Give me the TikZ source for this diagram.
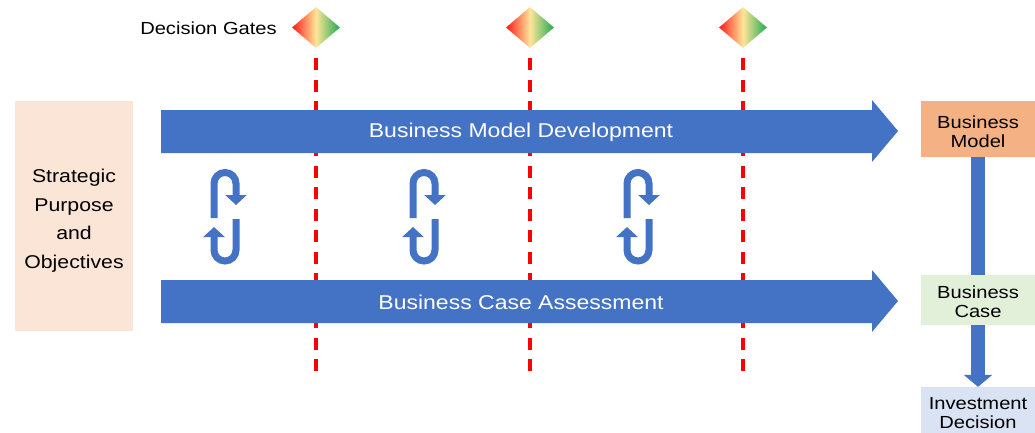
\documentclass[tikz,border=0pt]{standalone}
\usepackage{fontspec}
\setmainfont{Liberation Sans}[FakeStretch=1.15]
\usetikzlibrary{arrows.meta,shapes.geometric,backgrounds}

\definecolor{barblue}{HTML}{4472C4}
\definecolor{peach}{HTML}{FBE5D6}
\definecolor{modelorange}{HTML}{F4B183}
\definecolor{casegreen}{HTML}{E2F0D9}
\definecolor{decisionblue}{HTML}{DAE3F3}
\definecolor{gatered}{HTML}{FF1A1A}
\definecolor{gateyellow}{HTML}{FFE699}
\definecolor{gategreen}{HTML}{1FAA4F}

\begin{document}
\begin{tikzpicture}[x=1pt,y=-1pt,
  gate/.style={diamond,inner sep=0pt,minimum width=48pt,minimum height=41pt,
    left color=gatered,right color=gategreen,middle color=gateyellow},
  gateline/.style={draw=red,line width=3.5pt,dash pattern=on 12pt off 9.5pt},
  bartext/.style={text=white,inner sep=0pt,font=\fontsize{20}{24}\selectfont},
  sidebox/.style={inner sep=0pt,minimum width=114pt},
  sidetext/.style={inner sep=0pt,align=center,font=\fontsize{17.5}{19}\selectfont},
  loopline/.style={draw=barblue,line width=7pt,-{Triangle[width=21pt,length=10pt]}}]

\useasboundingbox (0,0) rectangle (1035,432);

% gates
\node[inner sep=0pt,font=\fontsize{17.5}{20}\selectfont] (gatelabel) at (208.5,28.5) {Decision Gates};
\node[gate] (g1) at (316,27.5) {};
\node[gate] (g2) at (530,27.5) {};
\node[gate] (g3) at (743,27.5) {};

\coordinate (lineend) at (0,373);
\foreach \g in {g1,g2,g3}
  \draw[gateline] ([yshift=-10pt]\g.south) -- (\g |- lineend);

% the two bars
\fill[barblue] (161,110) -- (872,110) -- (872,100) -- (898,131) -- (872,162)
  -- (872,153) -- (161,153) -- cycle;
\fill[barblue] (161,280) -- (872,280) -- (872,270) -- (898,301) -- (872,332)
  -- (872,323) -- (161,323) -- cycle;
\node[bartext] (bmd) at (521,132) {Business Model Development};
\node[bartext] (bca) at (521,302) {Business Case Assessment};

% iteration loops
\foreach \cx in {225,424,638} {
  \draw[loopline] (\cx-11,218) -- (\cx-11,183.5) arc (180:360:11) -- (\cx+11,205);
  \draw[loopline] (\cx+11,219) -- (\cx+11,250) arc (0:180:11) -- (\cx-11,227);
}

% left box
\node[fill=peach,inner sep=0pt,minimum width=118pt,minimum height=230pt] (spo) at (74,216) {};
\node[inner sep=0pt,align=center,font=\fontsize{18.5}{28.5}\selectfont] (spotext)
  at ([yshift=-4.5pt]spo.center) {Strategic\\Purpose\\and\\Objectives};

% results
\node[sidebox,fill=modelorange,minimum height=56pt] (bm) at (978,129) {};
\node[sidebox,fill=casegreen,minimum height=50pt] (bc) at (978,300) {};
\node[sidebox,fill=decisionblue,minimum height=50pt] (inv) at (978,412) {};
\node[sidetext] (bmtext) at ([yshift=-3pt]bm.center) {Business\\Model};
\node[sidetext] (bctext) at ([yshift=-2pt]bc.center) {Business\\Case};
\node[sidetext] (invtext) at ([yshift=-1pt]inv.center) {Investment\\Decision};

\begin{scope}[on background layer]
  \draw[barblue,line width=14pt,-{Triangle[width=28pt,length=12pt]}] (bm.south) -- (inv.north);
\end{scope}

\end{tikzpicture}
\end{document}
